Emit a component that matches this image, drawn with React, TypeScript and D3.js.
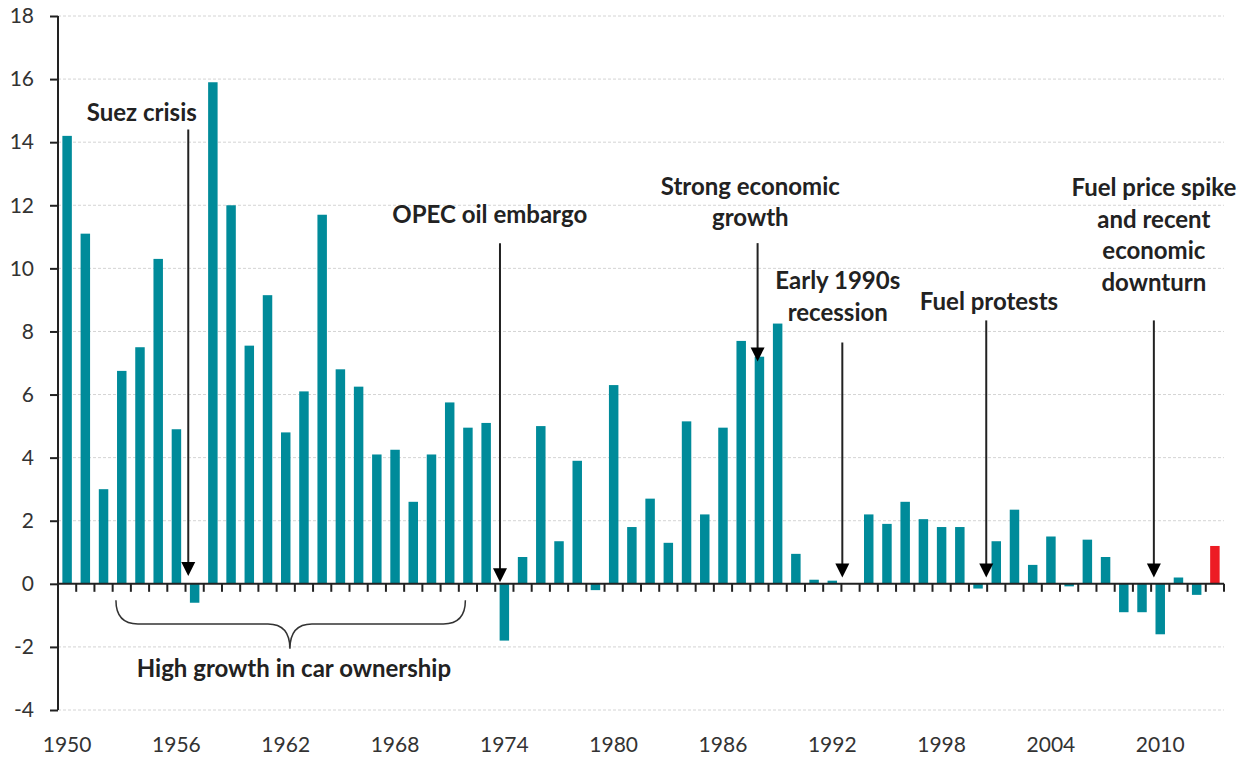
import React, { useEffect, useRef } from 'react';
import * as d3 from 'd3';

// annual growth in car traffic (%), 1950-2013
const years = d3.range(1950, 2014);
const growth = [
  14.2, 11.1, 3.0, 6.75, 7.5, 10.3, 4.9, -0.6, 15.9, 12.0,
  7.55, 9.15, 4.8, 6.1, 11.7, 6.8, 6.25, 4.1, 4.25, 2.6,
  4.1, 5.75, 4.95, 5.1, -1.8, 0.85, 5.0, 1.35, 3.9, -0.2,
  6.3, 1.8, 2.7, 1.3, 5.15, 2.2, 4.95, 7.7, 7.2, 8.25,
  0.95, 0.13, 0.1, 0, 2.2, 1.9, 2.6, 2.05, 1.8, 1.8,
  -0.15, 1.35, 2.35, 0.6, 1.5, -0.08, 1.4, 0.85, -0.9, -0.9,
  -1.6, 0.2, -0.35, 1.2,
];
const yTicks = [-4, -2, 0, 2, 4, 6, 8, 10, 12, 14, 16, 18];
const xLabelYears = [1950, 1956, 1962, 1968, 1974, 1980, 1986, 1992, 1998, 2004, 2010];
const highlightYear = 2013;

// annotations: arrow x in year units, arrow from/to in % units, text lines
const annoLabels = [
  ['Suez crisis'],
  ['OPEC oil embargo'],
  ['Strong economic', 'growth'],
  ['Early 1990s', 'recession'],
  ['Fuel protests'],
  ['Fuel price spike', 'and recent', 'economic', 'downturn'],
];
const annoArrowX = [1957.15, 1974.26, 1988.4, 1993.05, 2000.95, 2010.15];
const annoArrowFrom = [14.4, 10.8, 10.8, 7.65, 8.35, 8.35];
const annoArrowTo = [0.25, 0.05, 7.05, 0.2, 0.2, 0.2];
const annoTextX = [1954.6, 1973.7, 1988.0, 1992.8, 2001.1, 2010.15];
const annoTextY = [14.95, 11.7, 12.6, 9.6, 8.95, 12.55];

const braceLabel = 'High growth in car ownership';
const braceFrom = 1953.18;
const braceTo = 1972.36;
const braceMid = 1962.73;

const App = () => {
  const svgRef = useRef(null);

  useEffect(() => {
    const W = 1252;
    const H = 760;
    const left = 58;
    const right = 1224;
    const top = 16;
    const bottom = 710;
    const font = 'Lato, "Open Sans", sans-serif';

    const svg = d3.select(svgRef.current)
      .attr('width', W)
      .attr('height', H);
    svg.selectAll('*').remove();

    const x = d3.scaleBand()
      .domain(years.map(String))
      .range([left, right])
      .paddingInner(0.48)
      .paddingOuter(0.24);

    // continuous year scale for annotation positions
    const xYear = d3.scaleLinear()
      .domain([1950, 2014])
      .range([left, right]);

    const y = d3.scaleLinear()
      .domain([-4, 18])
      .range([bottom, top]);

    // gridlines
    svg.append('g')
      .selectAll('line')
      .data(yTicks.filter(t => t !== 0))
      .enter().append('line')
      .attr('x1', left)
      .attr('x2', right)
      .attr('y1', d => y(d))
      .attr('y2', d => y(d))
      .attr('stroke', '#d4d4d4')
      .attr('stroke-width', 1)
      .attr('stroke-dasharray', '3,2');

    // bars
    svg.append('g')
      .selectAll('rect')
      .data(years)
      .enter().append('rect')
      .attr('x', d => x(String(d)))
      .attr('width', x.bandwidth())
      .attr('y', (d, i) => y(Math.max(0, growth[i])))
      .attr('height', (d, i) => Math.abs(y(growth[i]) - y(0)))
      .attr('fill', d => (d === highlightYear ? '#ed1c24' : '#008b9a'));

    // y axis
    const yAxis = svg.append('g')
      .attr('transform', `translate(${left},0)`)
      .call(d3.axisLeft(y).tickValues(yTicks).tickSize(8).tickPadding(16).tickFormat(d => String(d)));
    yAxis.select('.domain').attr('stroke', '#222').attr('stroke-width', 2).attr('d', `M0,${top}V${bottom}`);
    yAxis.selectAll('.tick line').attr('stroke', '#222').attr('stroke-width', 2);
    yAxis.selectAll('text')
      .attr('font-family', font)
      .attr('font-size', 21)
      .attr('fill', '#333');

    // x axis at zero with ticks on category boundaries
    const xAxis = svg.append('g');
    xAxis.append('line')
      .attr('x1', left)
      .attr('x2', right)
      .attr('y1', y(0))
      .attr('y2', y(0))
      .attr('stroke', '#222')
      .attr('stroke-width', 2);
    xAxis.selectAll('line.tk')
      .data(d3.range(1951, 2015))
      .enter().append('line')
      .attr('class', 'tk')
      .attr('x1', d => xYear(d))
      .attr('x2', d => xYear(d))
      .attr('y1', y(0))
      .attr('y2', y(0) + 8)
      .attr('stroke', '#222')
      .attr('stroke-width', 2);
    xAxis.selectAll('text')
      .data(xLabelYears)
      .enter().append('text')
      .attr('x', d => x(String(d)) + x.bandwidth() / 2)
      .attr('y', 745)
      .attr('dy', '0.35em')
      .attr('text-anchor', 'middle')
      .attr('font-family', font)
      .attr('font-size', 21)
      .attr('fill', '#333')
      .text(d => d);

    // annotations
    const anno = svg.append('g');
    annoLabels.forEach((lines, i) => {
      const ax = xYear(annoArrowX[i]);
      const tipY = y(annoArrowTo[i]);
      anno.append('line')
        .attr('x1', ax)
        .attr('x2', ax)
        .attr('y1', y(annoArrowFrom[i]))
        .attr('y2', tipY - 8)
        .attr('stroke', '#222')
        .attr('stroke-width', 2);
      anno.append('path')
        .attr('d', `M${ax - 7},${tipY - 14}L${ax + 7},${tipY - 14}L${ax},${tipY}Z`)
        .attr('fill', '#000');
      const t = anno.append('text')
        .attr('text-anchor', 'middle')
        .attr('font-family', font)
        .attr('font-weight', 'bold')
        .attr('font-size', 24)
        .attr('fill', '#222');
      lines.forEach((ln, j) => {
        t.append('tspan')
          .attr('x', xYear(annoTextX[i]))
          .attr('y', y(annoTextY[i]) + j * 31.5)
          .attr('dy', '0.35em')
          .text(ln);
      });
    });

    // brace under the 1950s-60s bars
    const bx0 = xYear(braceFrom);
    const bx1 = xYear(braceTo);
    const bm = xYear(braceMid);
    const yt = y(-0.52);
    const yh = y(-1.27);
    const yp = y(-2.06);
    const r = 22;
    const bracePath = [
      `M${bx0},${yt}`,
      `Q${bx0},${yh} ${bx0 + r},${yh}`,
      `L${bm - r},${yh}`,
      `Q${bm},${yh} ${bm},${yp}`,
      `Q${bm},${yh} ${bm + r},${yh}`,
      `L${bx1 - r},${yh}`,
      `Q${bx1},${yh} ${bx1},${yt}`,
    ].join(' ');
    svg.append('path')
      .attr('d', bracePath)
      .attr('fill', 'none')
      .attr('stroke', '#333')
      .attr('stroke-width', 1.5);
    svg.append('text')
      .attr('x', xYear(1962.95))
      .attr('y', y(-2.69))
      .attr('dy', '0.35em')
      .attr('text-anchor', 'middle')
      .attr('font-family', font)
      .attr('font-weight', 'bold')
      .attr('font-size', 24)
      .attr('fill', '#222')
      .text(braceLabel);
  }, []);

  return (
    <svg
      ref={svgRef}
      style={{ position: 'absolute', left: 0, top: 0, background: '#fff' }}
    ></svg>
  );
};

export default App;
